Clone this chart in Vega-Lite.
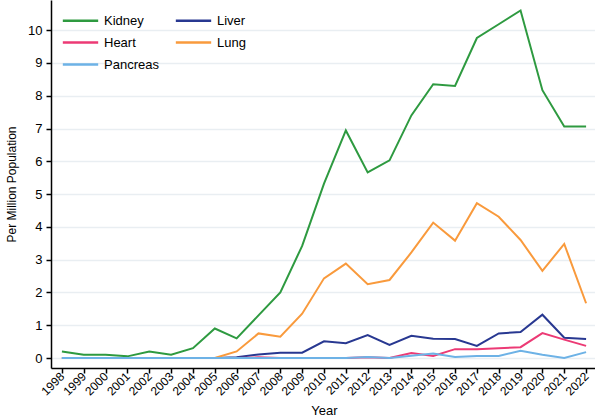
{
  "$schema": "https://vega.github.io/schema/vega-lite/v6.json",
  "autosize": {"type": "none"},
  "width": 546,
  "height": 368,
  "padding": {"left": 51, "top": 0, "right": 0, "bottom": 50},
  "background": "white",
  "config": {
    "font": "Liberation Sans",
    "view": {"stroke": null}
  },
  "data": {
    "values": [
      {"Year": "1998", "Organ": "Kidney", "Value": 0.2},
      {"Year": "1999", "Organ": "Kidney", "Value": 0.1},
      {"Year": "2000", "Organ": "Kidney", "Value": 0.1},
      {"Year": "2001", "Organ": "Kidney", "Value": 0.05},
      {"Year": "2002", "Organ": "Kidney", "Value": 0.2},
      {"Year": "2003", "Organ": "Kidney", "Value": 0.1},
      {"Year": "2004", "Organ": "Kidney", "Value": 0.3},
      {"Year": "2005", "Organ": "Kidney", "Value": 0.9},
      {"Year": "2006", "Organ": "Kidney", "Value": 0.6},
      {"Year": "2007", "Organ": "Kidney", "Value": 1.3},
      {"Year": "2008", "Organ": "Kidney", "Value": 2.0},
      {"Year": "2009", "Organ": "Kidney", "Value": 3.42},
      {"Year": "2010", "Organ": "Kidney", "Value": 5.32},
      {"Year": "2011", "Organ": "Kidney", "Value": 6.94},
      {"Year": "2012", "Organ": "Kidney", "Value": 5.66},
      {"Year": "2013", "Organ": "Kidney", "Value": 6.03},
      {"Year": "2014", "Organ": "Kidney", "Value": 7.4},
      {"Year": "2015", "Organ": "Kidney", "Value": 8.35},
      {"Year": "2016", "Organ": "Kidney", "Value": 8.3},
      {"Year": "2017", "Organ": "Kidney", "Value": 9.76},
      {"Year": "2018", "Organ": "Kidney", "Value": 10.18},
      {"Year": "2019", "Organ": "Kidney", "Value": 10.6},
      {"Year": "2020", "Organ": "Kidney", "Value": 8.17},
      {"Year": "2021", "Organ": "Kidney", "Value": 7.06},
      {"Year": "2022", "Organ": "Kidney", "Value": 7.06},

      {"Year": "1998", "Organ": "Liver", "Value": 0},
      {"Year": "1999", "Organ": "Liver", "Value": 0},
      {"Year": "2000", "Organ": "Liver", "Value": 0},
      {"Year": "2001", "Organ": "Liver", "Value": 0},
      {"Year": "2002", "Organ": "Liver", "Value": 0},
      {"Year": "2003", "Organ": "Liver", "Value": 0},
      {"Year": "2004", "Organ": "Liver", "Value": 0},
      {"Year": "2005", "Organ": "Liver", "Value": 0},
      {"Year": "2006", "Organ": "Liver", "Value": 0.02},
      {"Year": "2007", "Organ": "Liver", "Value": 0.11},
      {"Year": "2008", "Organ": "Liver", "Value": 0.16},
      {"Year": "2009", "Organ": "Liver", "Value": 0.16},
      {"Year": "2010", "Organ": "Liver", "Value": 0.51},
      {"Year": "2011", "Organ": "Liver", "Value": 0.45},
      {"Year": "2012", "Organ": "Liver", "Value": 0.7},
      {"Year": "2013", "Organ": "Liver", "Value": 0.4},
      {"Year": "2014", "Organ": "Liver", "Value": 0.68},
      {"Year": "2015", "Organ": "Liver", "Value": 0.59},
      {"Year": "2016", "Organ": "Liver", "Value": 0.58},
      {"Year": "2017", "Organ": "Liver", "Value": 0.37},
      {"Year": "2018", "Organ": "Liver", "Value": 0.75},
      {"Year": "2019", "Organ": "Liver", "Value": 0.79},
      {"Year": "2020", "Organ": "Liver", "Value": 1.32},
      {"Year": "2021", "Organ": "Liver", "Value": 0.62},
      {"Year": "2022", "Organ": "Liver", "Value": 0.58},

      {"Year": "1998", "Organ": "Heart", "Value": 0},
      {"Year": "1999", "Organ": "Heart", "Value": 0},
      {"Year": "2000", "Organ": "Heart", "Value": 0},
      {"Year": "2001", "Organ": "Heart", "Value": 0},
      {"Year": "2002", "Organ": "Heart", "Value": 0},
      {"Year": "2003", "Organ": "Heart", "Value": 0},
      {"Year": "2004", "Organ": "Heart", "Value": 0},
      {"Year": "2005", "Organ": "Heart", "Value": 0},
      {"Year": "2006", "Organ": "Heart", "Value": 0},
      {"Year": "2007", "Organ": "Heart", "Value": 0.02},
      {"Year": "2008", "Organ": "Heart", "Value": 0},
      {"Year": "2009", "Organ": "Heart", "Value": 0},
      {"Year": "2010", "Organ": "Heart", "Value": 0},
      {"Year": "2011", "Organ": "Heart", "Value": 0},
      {"Year": "2012", "Organ": "Heart", "Value": 0.02},
      {"Year": "2013", "Organ": "Heart", "Value": 0},
      {"Year": "2014", "Organ": "Heart", "Value": 0.15},
      {"Year": "2015", "Organ": "Heart", "Value": 0.06},
      {"Year": "2016", "Organ": "Heart", "Value": 0.27},
      {"Year": "2017", "Organ": "Heart", "Value": 0.27},
      {"Year": "2018", "Organ": "Heart", "Value": 0.3},
      {"Year": "2019", "Organ": "Heart", "Value": 0.33},
      {"Year": "2020", "Organ": "Heart", "Value": 0.76},
      {"Year": "2021", "Organ": "Heart", "Value": 0.56},
      {"Year": "2022", "Organ": "Heart", "Value": 0.37},

      {"Year": "1998", "Organ": "Lung", "Value": 0},
      {"Year": "1999", "Organ": "Lung", "Value": 0},
      {"Year": "2000", "Organ": "Lung", "Value": 0},
      {"Year": "2001", "Organ": "Lung", "Value": 0},
      {"Year": "2002", "Organ": "Lung", "Value": 0},
      {"Year": "2003", "Organ": "Lung", "Value": 0},
      {"Year": "2004", "Organ": "Lung", "Value": 0},
      {"Year": "2005", "Organ": "Lung", "Value": 0},
      {"Year": "2006", "Organ": "Lung", "Value": 0.2},
      {"Year": "2007", "Organ": "Lung", "Value": 0.75},
      {"Year": "2008", "Organ": "Lung", "Value": 0.65},
      {"Year": "2009", "Organ": "Lung", "Value": 1.35},
      {"Year": "2010", "Organ": "Lung", "Value": 2.43},
      {"Year": "2011", "Organ": "Lung", "Value": 2.88},
      {"Year": "2012", "Organ": "Lung", "Value": 2.25},
      {"Year": "2013", "Organ": "Lung", "Value": 2.38},
      {"Year": "2014", "Organ": "Lung", "Value": 3.22},
      {"Year": "2015", "Organ": "Lung", "Value": 4.13},
      {"Year": "2016", "Organ": "Lung", "Value": 3.58},
      {"Year": "2017", "Organ": "Lung", "Value": 4.72},
      {"Year": "2018", "Organ": "Lung", "Value": 4.31},
      {"Year": "2019", "Organ": "Lung", "Value": 3.6},
      {"Year": "2020", "Organ": "Lung", "Value": 2.66},
      {"Year": "2021", "Organ": "Lung", "Value": 3.48},
      {"Year": "2022", "Organ": "Lung", "Value": 1.67},

      {"Year": "1998", "Organ": "Pancreas", "Value": 0},
      {"Year": "1999", "Organ": "Pancreas", "Value": 0},
      {"Year": "2000", "Organ": "Pancreas", "Value": 0},
      {"Year": "2001", "Organ": "Pancreas", "Value": 0},
      {"Year": "2002", "Organ": "Pancreas", "Value": 0},
      {"Year": "2003", "Organ": "Pancreas", "Value": 0},
      {"Year": "2004", "Organ": "Pancreas", "Value": 0},
      {"Year": "2005", "Organ": "Pancreas", "Value": 0},
      {"Year": "2006", "Organ": "Pancreas", "Value": 0},
      {"Year": "2007", "Organ": "Pancreas", "Value": 0},
      {"Year": "2008", "Organ": "Pancreas", "Value": 0},
      {"Year": "2009", "Organ": "Pancreas", "Value": 0},
      {"Year": "2010", "Organ": "Pancreas", "Value": 0},
      {"Year": "2011", "Organ": "Pancreas", "Value": 0},
      {"Year": "2012", "Organ": "Pancreas", "Value": 0.03},
      {"Year": "2013", "Organ": "Pancreas", "Value": 0},
      {"Year": "2014", "Organ": "Pancreas", "Value": 0.07},
      {"Year": "2015", "Organ": "Pancreas", "Value": 0.14},
      {"Year": "2016", "Organ": "Pancreas", "Value": 0.03},
      {"Year": "2017", "Organ": "Pancreas", "Value": 0.06},
      {"Year": "2018", "Organ": "Pancreas", "Value": 0.06},
      {"Year": "2019", "Organ": "Pancreas", "Value": 0.22},
      {"Year": "2020", "Organ": "Pancreas", "Value": 0.1},
      {"Year": "2021", "Organ": "Pancreas", "Value": 0},
      {"Year": "2022", "Organ": "Pancreas", "Value": 0.18}
    ]
  },
  "mark": {"type": "line", "strokeWidth": 2},
  "encoding": {
    "x": {
      "field": "Year",
      "type": "ordinal",
      "scale": {"type": "point", "padding": 0.5},
      "axis": {
        "title": "Year",
        "titleFontSize": 13,
        "titleFontWeight": "normal",
        "titleColor": "#000",
        "titlePadding": 7,
        "labelAngle": -45,
        "labelAlign": "right",
        "labelBaseline": "middle",
        "labelFontSize": 12,
        "labelColor": "#000",
        "labelPadding": 1,
        "domainColor": "#000",
        "domainWidth": 1.5,
        "tickColor": "#000",
        "tickWidth": 1.5,
        "tickSize": 5,
        "grid": false
      }
    },
    "y": {
      "field": "Value",
      "type": "quantitative",
      "scale": {"domain": [-0.305, 10.92], "nice": false, "zero": false},
      "axis": {
        "title": "Per Million Population",
        "titleFontSize": 12,
        "titleFontWeight": "normal",
        "titleColor": "#000",
        "titlePadding": 9,
        "values": [0, 1, 2, 3, 4, 5, 6, 7, 8, 9, 10],
        "labelFontSize": 13,
        "labelColor": "#000",
        "labelPadding": 4,
        "domainColor": "#000",
        "domainWidth": 1.5,
        "tickColor": "#000",
        "tickWidth": 1.5,
        "tickSize": 5,
        "grid": true,
        "gridColor": "#e9eef2",
        "gridWidth": 1.5
      }
    },
    "color": {
      "field": "Organ",
      "type": "nominal",
      "scale": {
        "domain": ["Kidney", "Heart", "Pancreas", "Liver", "Lung"],
        "range": ["#2e9a40", "#ec3a75", "#6db2e6", "#283891", "#f99a3c"]
      },
      "legend": {
        "title": null,
        "orient": "none",
        "legendX": 21,
        "legendY": 12,
        "columns": 2,
        "columnPadding": 11,
        "rowPadding": 6,
        "symbolType": "M-2.5,0L2.5,0",
        "symbolSize": 200,
        "symbolStrokeWidth": 2.5,
        "labelFontSize": 13,
        "labelColor": "#000",
        "labelOffset": 15
      }
    }
  }
}
